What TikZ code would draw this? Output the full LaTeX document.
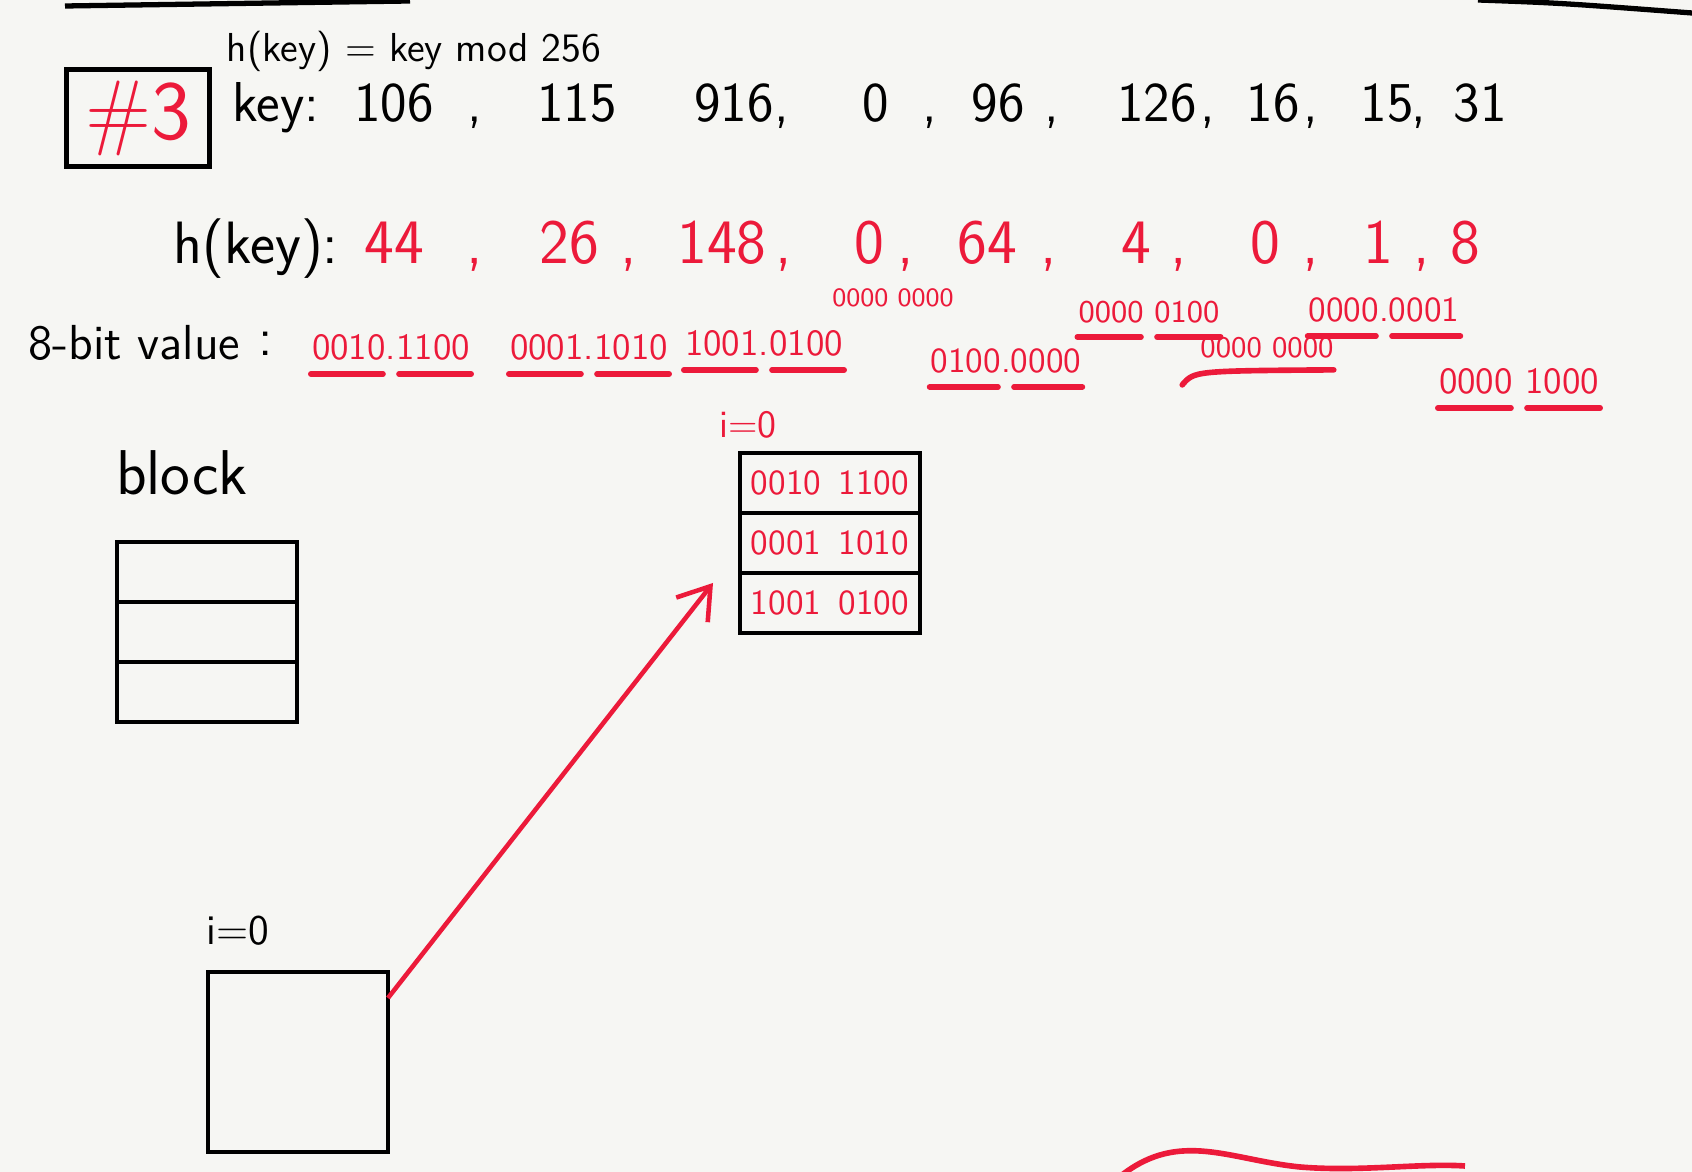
\documentclass[tikz,border=0pt]{standalone}
\usepackage{amsmath}
\usepackage{tikz}
\usetikzlibrary{positioning,arrows.meta}
\renewcommand{\familydefault}{\sfdefault}
\definecolor{ink}{RGB}{236,26,58}
\definecolor{paper}{RGB}{246,246,243}

\begin{document}
\begin{tikzpicture}[x=0.1mm,y=-0.1mm,
    txt/.style={inner sep=1pt,anchor=base,font=\fontsize{16}{18}\selectfont},
    hval/.style={txt,text=ink,font=\fontsize{18}{20}\selectfont},
    bits/.style={inner sep=1pt,anchor=base,text=ink,font=\fontsize{10.5}{12}\selectfont},
    ul/.style={draw=ink,line width=1.6pt,line cap=round},
    box/.style={draw,line width=1.3pt,inner sep=0pt,outer sep=0pt,
                minimum width=18mm,minimum height=6mm},
    rowtxt/.style={box,text=ink,font=\fontsize{10}{12}\selectfont}]
  \fill[paper] (0,0) rectangle (1692,1172);
  \useasboundingbox (0,0) rectangle (1692,1172);

  % bits of earlier strokes at the edges
  \draw[line width=1.5pt] (65,6) -- (410,1);
  \draw[line width=1.5pt] (1478,0) .. controls (1560,3) .. (1692,13);
  \draw[ink,line width=1.6pt] (1122,1175) .. controls (1180,1130) and (1230,1160) .. (1300,1167)
      .. controls (1360,1172) and (1420,1163) .. (1465,1166);

  \node[box,minimum width=14.3mm,minimum height=9.7mm,line width=1.5pt,text=ink,
        font=\fontsize{24}{26}\selectfont] (tag) at (138,118) {\#3};

  \node[txt,font=\fontsize{11.5}{13}\selectfont] (hdef) at (414,62) {h(key) = key mod 256};
  \node[txt] (keylabel) at (276,122) {key:};
  \foreach \x/\t [count=\i] in {394/106,475/{,},577/115,734/916,782/{,},876/0,930/{,},
      998/96,1052/{,},1157/126,1208/{,},1273/16,1311/{,},1387/15,1419/{,},1480/31}
    \node[txt] (key\i) at (\x,122) {\t};

  \node[txt,font=\fontsize{17}{19}\selectfont] (hlabel) at (256,264) {h(key):};
  \foreach \x/\t [count=\i] in {394/44,475/{,},569/26,629/{,},722/148,784/{,},869/0,906/{,},
      987/64,1049/{,},1136/4,1179/{,},1265/0,1311/{,},1378/1,1422/{,},1465/8}
    \node[hval] (h\i) at (\x,264) {\t};

  \node[txt,anchor=base west,font=\fontsize{14}{16}\selectfont] (bitlabel) at (24,360) {8-bit value};
  \node[txt,font=\fontsize{15}{17}\selectfont] (bitcolon) at (266,356) {:};
  \node[bits] (b1) at (391,360) {0010.1100};
  \node[bits] (b2) at (589,360) {0001.1010};
  \node[bits] (b3) at (764,356) {1001.0100};
  \node[bits,font=\fontsize{7.5}{9}\selectfont] (b4) at (893,307) {0000 0000};
  \node[bits,font=\fontsize{10}{12}\selectfont] (b5) at (1006,373) {0100.0000};
  \node[bits,font=\fontsize{9}{11}\selectfont] (b6) at (1149,323) {0000 0100};
  \node[bits,font=\fontsize{8.5}{10}\selectfont] (b7) at (1267,358) {0000 0000};
  \node[bits,font=\fontsize{10}{12}\selectfont] (b8) at (1384,322) {0000.0001};
  \node[bits] (b9) at (1519,394) {0000 1000};
  \foreach \n in {b1,b2,b3,b5,b6,b8,b9}{
    \draw[ul] ([shift={(3,9)}]\n.south west) -- ([shift={(-8,9)}]\n.south);
    \draw[ul] ([shift={(8,9)}]\n.south) -- ([shift={(-3,9)}]\n.south east);
  }
  \draw[ul] ([shift={(-14,22)}]b7.south west) .. controls ([shift={(-2,8)}]b7.south west)
      .. ([shift={(-4,7)}]b7.south east);

  % block
  \node[txt,font=\fontsize{18}{20}\selectfont] (blocklabel) at (182,495) {block};
  \node[box] (blk1) at (207,572) {};
  \node[box,below=0pt of blk1] (blk2) {};
  \node[box,below=0pt of blk2] (blk3) {};

  % bucket i=0
  \node[txt,font=\fontsize{12}{14}\selectfont] (ilabel) at (238,945) {i=0};
  \node[box,minimum size=18mm] (cell) at (298,1062) {};

  \node[txt,text=ink,font=\fontsize{11}{13}\selectfont] (tlabel) at (748,438) {i=0};
  \node[rowtxt] (row1) at (830,483) {0010\enspace 1100};
  \node[rowtxt,below=0pt of row1] (row2) {0001\enspace 1010};
  \node[rowtxt,below=0pt of row2] (row3) {1001\enspace 0100};

  \coordinate (tip) at ([shift={(-27,-20)}]row3.west);
  \draw[ink,line width=1.3pt,-{Straight Barb[length=3mm,width=4mm]}]
    ([yshift=-2.6mm]cell.north east) -- (tip);
\end{tikzpicture}
\end{document}
